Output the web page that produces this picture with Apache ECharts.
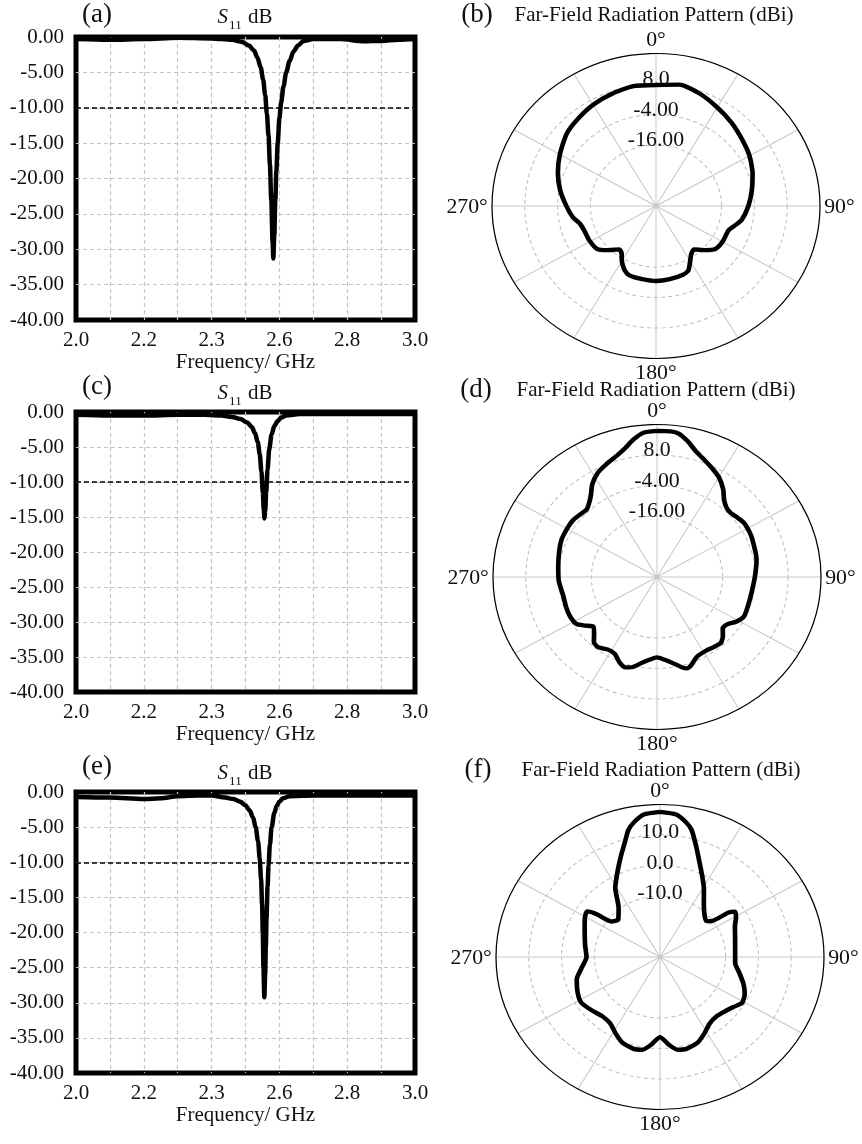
<!DOCTYPE html>
<html lang="en">
<head>
   <meta charset="utf-8">
   <title>S11 and Far-Field Radiation Patterns</title>
   <script src="https://cdn.jsdelivr.net/npm/echarts@6.0.0/dist/echarts.min.js"></script>
   <style>
      html, body { margin: 0; padding: 0; background: #fff; overflow: hidden; }
      #page { position: relative; width: 862px; height: 1144px; }
      #chart-container { position: absolute; left: 0; top: 0; width: 862px; height: 1144px; }
      .polar-box { position: absolute; width: 420px; height: 390px; transform-origin: 210px 195px; transform: scale(1.038, 0.965); }
   </style>
</head>
<body>
   <div id="page">
      <div id="chart-container"></div>
      <div class="polar-box" id="polar-b"></div>
      <div class="polar-box" id="polar-d"></div>
      <div class="polar-box" id="polar-f"></div>
   </div>
   <script>
      // ---- S11 curves: frequency (GHz) / return loss (dB) ----
      var freqA = [2.000, 2.100, 2.200, 2.300, 2.400, 2.460, 2.490, 2.510, 2.525, 2.535,
                   2.545, 2.552, 2.558, 2.563, 2.568, 2.572, 2.576, 2.580, 2.582, 2.585,
                   2.588, 2.591, 2.595, 2.600, 2.605, 2.612, 2.620, 2.630, 2.642, 2.655,
                   2.670, 2.700, 2.780, 2.850, 2.900, 2.950, 3.000];
      var s11A  = [-0.3, -0.4, -0.3, -0.1, -0.2, -0.4, -0.7, -1.2, -1.9, -2.9,
                   -4.3, -6.0, -8.2, -10.8, -14, -18, -23, -29, -31.3, -28,
                   -23, -19, -15, -11.5, -9.3, -7, -5, -3.4, -2, -1.2,
                   -0.6, -0.3, -0.3, -0.6, -0.55, -0.4, -0.3];

      var freqC = [2.000, 2.100, 2.200, 2.300, 2.380, 2.430, 2.460, 2.485, 2.505, 2.518,
                   2.528, 2.536, 2.542, 2.547, 2.551, 2.554, 2.556, 2.558, 2.561, 2.565,
                   2.570, 2.577, 2.585, 2.595, 2.605, 2.620, 2.660, 2.800, 3.000];
      var s11C  = [-0.4, -0.5, -0.5, -0.4, -0.4, -0.5, -0.7, -1.0, -1.5, -2.1,
                   -3.0, -4.3, -6.0, -8.5, -11.5, -14, -15.2, -14.2, -11.5, -8.2,
                   -5.3, -3.2, -2.0, -1.3, -0.8, -0.5, -0.3, -0.3, -0.3];

      var freqE = [2.000, 2.100, 2.200, 2.250, 2.300, 2.360, 2.400, 2.440, 2.465, 2.485,
                   2.500, 2.512, 2.522, 2.530, 2.537, 2.542, 2.546, 2.549, 2.551, 2.553,
                   2.5555, 2.558, 2.560, 2.562, 2.565, 2.568, 2.572, 2.577, 2.585, 2.592,
                   2.600, 2.610, 2.630, 2.700, 2.800, 2.900, 3.000];
      var s11E  = [-0.7, -0.8, -1.0, -0.9, -0.6, -0.5, -0.5, -0.8, -1.0, -1.4,
                   -1.9, -2.6, -3.6, -5.0, -7.0, -9.5, -12.5, -16, -20, -25,
                   -29.2, -26, -22, -18, -13.5, -10.5, -7.5, -5.0, -3.0, -2.0,
                   -1.4, -0.9, -0.6, -0.5, -0.5, -0.5, -0.5];

      var threshold = -10;
      var freqTickVals = [2.0, 2.2, 2.4, 2.6, 2.8, 3.0];
      var freqTickText = ['2.0', '2.2', '2.3', '2.6', '2.8', '3.0'];

      // ---- Far-field patterns: angle (deg, clockwise from top) / gain (dBi) ----
      var angB  = [0, 10, 20, 30, 40, 50, 60, 70, 80, 90,
                   100, 105, 110, 120, 128, 134, 141, 146, 150, 155,
                   160, 170, 180, 190, 200, 205, 210, 214, 218, 226,
                   232, 241, 250, 256, 262, 270, 280, 290, 300, 311,
                   320, 330, 340, 350, 360];
      var gainB = [7.6, 8.5, 7.0, 4.8, 2.9, 1.0, -0.5, -2.4, -4.4, -6.2,
                   -8.2, -10.2, -11.8, -11.9, -12.5, -15, -18, -17, -15, -12,
                   -11.2, -10.8, -10.5, -10.8, -11.1, -12.5, -15, -17.5, -18.3, -15,
                   -12.6, -12.1, -12.0, -11.3, -9.2, -7.2, -4.4, -1.8, 0.6, 3.3,
                   4.6, 6.0, 7.0, 7.9, 7.6];

      var angD  = [0, 5, 8, 12, 16, 20, 25, 30, 35, 39,
                   43, 47, 51, 56, 62, 67, 79, 90, 102, 110,
                   116, 121, 126, 130, 134, 138, 143, 148, 155, 160,
                   163, 166, 170, 175, 180, 185, 190, 194, 198, 202,
                   207, 212, 218, 222, 226, 230, 234, 238, 244, 250,
                   258, 268, 277, 286, 293, 300, 306, 311, 316, 320,
                   323, 327, 332, 337, 343, 347, 351, 355, 360];
      var gainD = [17.5, 17.5, 17.0, 14.5, 11.5, 9.5, 7.4, 5.3, 2.2, -1.0,
                   -2.7, -3.1, -2.5, -1.7, -1.8, -2.1, -2.9, -4.2, -4.9, -4.8,
                   -4.6, -6.0, -8.3, -8.6, -6.5, -5.1, -5.5, -5.9, -5.4, -3.2,
                   -2.4, -3.5, -5.5, -7.3, -8.4, -7.3, -5.5, -3.5, -2.6, -3.6,
                   -6.0, -6.3, -5.0, -5.5, -8.0, -9.6, -7.5, -5.2, -4.6, -4.7,
                   -4.9, -4.0, -3.6, -2.8, -2.1, -2.0, -2.0, -2.6, -3.0, -1.5,
                   0.2, 3.5, 6.3, 8.0, 10.0, 12.0, 14.8, 17.0, 17.5];

      var angF  = [0, 6, 10, 13, 17, 21, 26, 31, 37, 44,
                   50, 53, 55, 57, 61, 66, 75, 85, 95, 102,
                   109, 115, 121, 126, 132, 138, 145, 152, 158, 165,
                   170, 175, 180, 185, 190, 195, 202, 208, 215, 222,
                   230, 238, 245, 254, 261, 270, 280, 291, 299, 304,
                   306, 308, 314, 322, 329, 332, 336, 340, 344, 347,
                   350, 354, 360];
      var gainF = [17.6, 17.0, 15.0, 12.8, 7.8, 3.5, -0.6, -4.0, -7.8, -10.5,
                   -11.6, -10.5, -4.5, -2.7, -3.5, -5.0, -6.3, -7.0, -7.0, -5.3,
                   -3.1, -1.5, -0.8, -2.2, -3.4, -4.0, -3.5, -1.4, 0.4, 1.2,
                   0.9, -1.3, -3.7, -1.3, 0.9, 1.2, 0.4, -1.4, -3.5, -3.8,
                   -2.8, -1.7, -2.3, -3.6, -5.7, -7.6, -6.8, -5.4, -3.8, -3.2,
                   -6.0, -11.1, -12.3, -9.5, -3.5, -1.5, 1.5, 5.0, 9.0, 12.8,
                   15.0, 17.0, 17.6];

      var ringValsBD = [8, -4, -16];
      var ringTextBD = ['8.0', '-4.00', '-16.00'];
      var ringValsF = [10, 0, -10];
      var ringTextF = ['10.0', '0.0', '-10.0'];
      var angleLabelVals = [0, 90, 180, 270];

      var FONT = '"Liberation Serif", "Times New Roman", serif';

      // layout of the six panels
      var gridBoxes = [
         { left: 76, top: 37, width: 339, height: 283 },
         { left: 76, top: 412, width: 339, height: 280 },
         { left: 76, top: 792, width: 339, height: 281 }
      ];
      // centres of the (slightly elliptical) polar plots on the page
      var polarCentres = [[656, 206], [657, 577], [660, 957]];
      var polarIds = ['polar-b', 'polar-d', 'polar-f'];
      // ring labels sit a little above their ring: label box height, bottom on the ring
      var ringLabelBox = [11, 11, 7];

      function pairs(xs, ys) {
         return xs.map(function(x, i) { return [x, ys[i]]; });
      }
      function polarPairs(angles, gains) {
         return angles.map(function(a, i) { return [gains[i], a]; });
      }

      function freqLabel(v) {
         for (var i = 0; i < freqTickVals.length; i++) {
            if (Math.abs(v - freqTickVals[i]) < 1e-6) return freqTickText[i];
         }
         return '';
      }

      // ---------- S11 panels + all titles ----------
      var myChart = echarts.init(document.getElementById('chart-container'), null, { renderer: 'canvas' });

      var grids = [], xAxes = [], yAxes = [], series = [];
      var s11Sets = [pairs(freqA, s11A), pairs(freqC, s11C), pairs(freqE, s11E)];

      gridBoxes.forEach(function(b, i) {
         grids.push({
            left: b.left, top: b.top, width: b.width, height: b.height,
            show: true, borderColor: '#000', borderWidth: 5, backgroundColor: 'transparent'
         });
         xAxes.push({
            gridIndex: i, type: 'value', min: 2, max: 3, interval: 0.1,
            name: 'Frequency/ GHz', nameLocation: 'middle', nameGap: 27,
            nameTextStyle: { fontSize: 21, color: '#111', fontFamily: FONT },
            axisLine: { show: false }, axisTick: { show: false },
            axisLabel: { fontSize: 21, color: '#111', fontFamily: FONT, margin: 10, formatter: freqLabel,
                         showMinLabel: true, showMaxLabel: true },
            splitLine: { show: true, showMinLine: false, showMaxLine: false,
                         lineStyle: { color: '#c4c4c4', type: [4, 3], width: 1.2 } }
         });
         yAxes.push({
            gridIndex: i, type: 'value', min: -40, max: 0, interval: 5,
            axisLine: { show: false }, axisTick: { show: false },
            axisLabel: { fontSize: 21, color: '#111', fontFamily: FONT, margin: 12,
                         formatter: function(v) { return v.toFixed(2); } },
            splitLine: { show: true, showMinLine: false, showMaxLine: false,
                         lineStyle: { color: '#c4c4c4', type: [4, 3], width: 1.2 } }
         });
         series.push({
            type: 'line', xAxisIndex: i, yAxisIndex: i,
            data: s11Sets[i], showSymbol: false, symbol: 'none',
            smooth: 0.3, smoothMonotone: 'x',
            lineStyle: { color: '#000', width: 4.5 },
            markLine: {
               silent: true, symbol: 'none', label: { show: false },
               lineStyle: { color: '#000', type: [5, 3], width: 1.5 },
               data: [{ yAxis: threshold }]
            }
         });
      });

      function txt(x, y, text, size) {
         return {
            type: 'text', x: x, y: y, silent: true,
            style: { text: text, fill: '#111', font: size + 'px ' + FONT, align: 'center', verticalAlign: 'middle' }
         };
      }
      function s11Title(x, y) {
         return {
            type: 'text', x: x, y: y, silent: true,
            style: {
               text: '{s|S}{sub|11}{n| dB}', fill: '#111', align: 'center', verticalAlign: 'middle',
               rich: {
                  s: { fontFamily: FONT, fontSize: 21, fontStyle: 'italic', lineHeight: 22, verticalAlign: 'top' },
                  sub: { fontFamily: FONT, fontSize: 13, lineHeight: 13, padding: [12, 1, 0, 1], verticalAlign: 'top' },
                  n: { fontFamily: FONT, fontSize: 21, lineHeight: 22, verticalAlign: 'top' }
               }
            }
         };
      }
      var ffTitle = 'Far-Field Radiation Pattern (dBi)';

      var option = {
         animation: false,
         backgroundColor: '#fff',
         textStyle: { fontFamily: FONT },
         grid: grids,
         xAxis: xAxes,
         yAxis: yAxes,
         series: series,
         graphic: [
            txt(97, 15, '(a)', 27), s11Title(245, 18),
            txt(97, 387, '(c)', 27), s11Title(245, 394),
            txt(97, 767, '(e)', 27), s11Title(245, 774),
            txt(477, 15, '(b)', 27), txt(654, 15, ffTitle, 21),
            txt(476, 390, '(d)', 27), txt(656, 390, ffTitle, 21),
            txt(478, 770, '(f)', 27), txt(661, 770, ffTitle, 21)
         ]
      };
      myChart.setOption(option);

      // ---------- far-field panels ----------
      var patterns = [
         { ang: angB, gain: gainB, min: -40, max: 20, step: 12, vals: ringValsBD, text: ringTextBD },
         { ang: angD, gain: gainD, min: -40, max: 20, step: 12, vals: ringValsBD, text: ringTextBD },
         { ang: angF, gain: gainF, min: -30, max: 20, step: 10, vals: ringValsF, text: ringTextF }
      ];

      patterns.forEach(function(pat, i) {
         var box = document.getElementById(polarIds[i]);
         box.style.left = (polarCentres[i][0] - 210) + 'px';
         box.style.top = (polarCentres[i][1] - 195) + 'px';
         var chart = echarts.init(box, null, { renderer: 'svg' });
         chart.setOption({
            animation: false,
            textStyle: { fontFamily: FONT },
            polar: { center: [210, 195], radius: 158 },
            angleAxis: {
               type: 'value', min: 0, max: 360, interval: 30,
               startAngle: 90, clockwise: true,
               axisLine: { show: true, lineStyle: { color: '#000', width: 1.2 } },
               axisTick: { show: false },
               axisLabel: {
                  fontSize: 21, color: '#111', fontFamily: FONT, margin: 4,
                  formatter: function(v) { return angleLabelVals.indexOf(v) >= 0 ? v + '°' : ''; }
               },
               splitLine: { show: true, lineStyle: { color: '#c8c8c8', width: 1 } }
            },
            radiusAxis: {
               type: 'value', min: pat.min, max: pat.max, interval: pat.step,
               axisLine: { show: false }, axisTick: { show: false },
               axisLabel: {
                  fontSize: 21, color: '#111', fontFamily: FONT, margin: 0,
                  align: 'center', verticalAlign: 'bottom', lineHeight: ringLabelBox[i],
                  formatter: function(v) {
                     var k = pat.vals.indexOf(Math.round(v));
                     return k >= 0 ? pat.text[k] : '';
                  }
               },
               splitLine: {
                  show: true,
                  lineStyle: {
                     color: ['transparent', 'transparent', '#bdbdbd', '#bdbdbd', '#bdbdbd', 'transparent'],
                     type: [4, 3], width: 1
                  }
               }
            },
            series: [{
               type: 'line', coordinateSystem: 'polar',
               data: polarPairs(pat.ang, pat.gain), showSymbol: false, symbol: 'none', smooth: 0.2,
               lineStyle: { color: '#000', width: 4.5 }
            }]
         });
      });
   </script>
</body>
</html>
